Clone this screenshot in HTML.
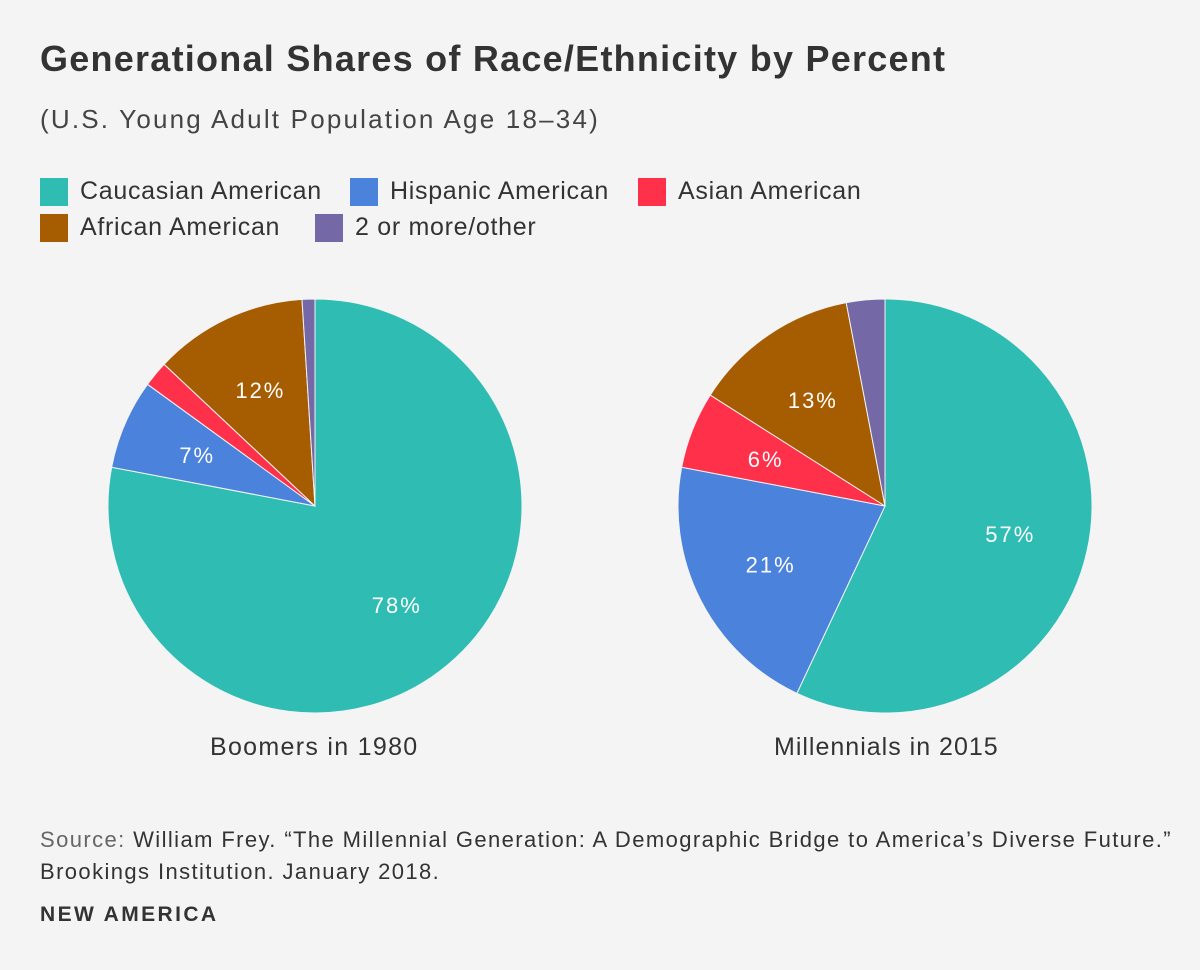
<!DOCTYPE html>
<html><head><meta charset="utf-8"><style>
body{margin:0;background:#f4f4f4;width:1200px;height:970px;overflow:hidden;font-family:"Liberation Sans",sans-serif;color:#333}
.t{position:absolute;white-space:nowrap}
.sw{display:inline-block;width:28px;height:28px;vertical-align:middle;margin-right:12px}
.leg{position:absolute;font-size:25px;color:#333;white-space:nowrap;letter-spacing:0.7px}
</style></head><body>
<div class="t" style="left:40px;top:38px;font-size:36px;font-weight:bold;color:#333;letter-spacing:1.25px">Generational Shares of Race/Ethnicity by Percent</div>
<div class="t" style="left:40px;top:104px;font-size:26px;color:#444;letter-spacing:2.2px">(U.S. Young Adult Population Age 18–34)</div>
<div class="leg" style="left:40px;top:177px"><span class="sw" style="background:#2fbdb3"></span>Caucasian American</div>
<div class="leg" style="left:350px;top:177px"><span class="sw" style="background:#4a82dc"></span>Hispanic American</div>
<div class="leg" style="left:638px;top:177px"><span class="sw" style="background:#ff3049"></span>Asian American</div>
<div class="leg" style="left:40px;top:213px"><span class="sw" style="background:#a65c00"></span>African American</div>
<div class="leg" style="left:315px;top:213px"><span class="sw" style="background:#7468a6"></span>2 or more/other</div>
<svg id="c" width="1200" height="970" style="position:absolute;left:0;top:0"></svg>
<div class="t" style="left:210px;top:733px;font-size:25px;letter-spacing:1.3px">Boomers in 1980</div>
<div class="t" style="left:774px;top:733px;font-size:25px;letter-spacing:1px">Millennials in 2015</div>
<div class="t" style="left:40px;top:824px;font-size:22px;line-height:32px;color:#333;letter-spacing:1.4px"><span style="color:#666">Source:</span> William Frey. “The Millennial Generation: A Demographic Bridge to America’s Diverse Future.”<br>Brookings Institution. January 2018.</div>
<div class="t" style="left:40px;top:903px;font-size:21px;font-weight:bold;color:#333;letter-spacing:2.4px">NEW AMERICA</div>
<script>
const categories=["Caucasian American","Hispanic American","Asian American","African American","2 or more/other"];
const colors=["#2fbdb3","#4a82dc","#ff3049","#a65c00","#7468a6"];
const boomers1980=[78,7,2,12,1];
const millennials2015=[57,21,6,13,3];
const svg=document.getElementById('c');const NS="http://www.w3.org/2000/svg";
function pie(vals,cx,cy,r,name){
 const tot=vals.reduce((a,b)=>a+b,0);let a0=0;
 vals.forEach((v,i)=>{
  const a1=a0+v/tot*2*Math.PI;
  const p=(a)=>[cx+r*Math.sin(a),cy-r*Math.cos(a)];
  const [x0,y0]=p(a0),[x1,y1]=p(a1);
  const path=document.createElementNS(NS,'path');
  path.setAttribute('d',`M${cx},${cy}L${x0},${y0}A${r},${r} 0 ${a1-a0>Math.PI?1:0} 1 ${x1},${y1}Z`);
  path.setAttribute('fill',colors[i]);path.setAttribute('stroke','#f4f4f4');path.setAttribute('stroke-width','1');
  
  
  svg.appendChild(path);
  if(v>=5){const m=(a0+a1)/2,lr=r*0.62;
   const t=document.createElementNS(NS,'text');
   t.setAttribute('x',cx+lr*Math.sin(m));t.setAttribute('y',cy-lr*Math.cos(m)+8);
   t.setAttribute('text-anchor','middle');t.setAttribute('fill','#fff');t.setAttribute('font-size','22');
   t.setAttribute('letter-spacing','2');
   t.setAttribute('font-family','Liberation Sans, sans-serif');t.textContent=v+'%';
   
   
   svg.appendChild(t);}
  a0=a1;});
}
pie(boomers1980,315,506,207,'boomers');
pie(millennials2015,885,506,207,'millennials');
</script>
</body></html>
